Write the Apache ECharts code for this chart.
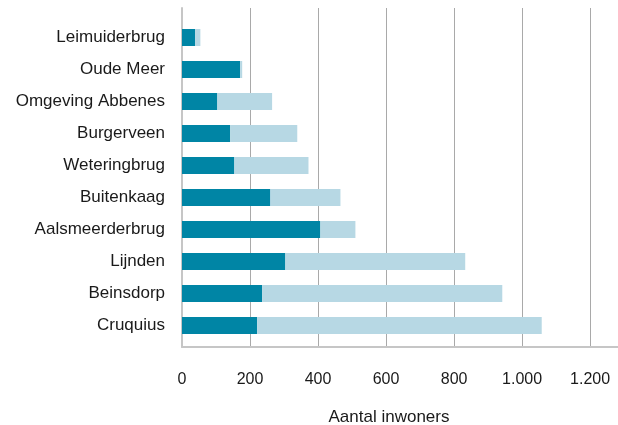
<!DOCTYPE html>
<html>
<head>
<meta charset="utf-8">
<title>Aantal inwoners per kern</title>
<script src="https://cdn.jsdelivr.net/npm/echarts@6/dist/echarts.min.js"></script>
<style>
  html, body { margin: 0; padding: 0; background: #ffffff; }
  #chart { width: 618px; height: 425px; }
</style>
</head>
<body>
<div id="chart"></div>
<script>
// Kernen, van boven naar beneden
const categories = [
  'Leimuiderbrug', 'Oude Meer', 'Omgeving Abbenes', 'Burgerveen', 'Weteringbrug',
  'Buitenkaag', 'Aalsmeerderbrug', 'Lijnden', 'Beinsdorp', 'Cruquius'
];
// Donker deel van elke balk
const darkPart = [39, 171, 104, 142, 154, 260, 407, 304, 236, 221];
// Licht deel, gestapeld op het donkere deel
const lightPart = [15, 6, 161, 197, 218, 206, 103, 529, 706, 837];
// Tikken op de x-as
const tickValues = [0, 200, 400, 600, 800, 1000, 1200];

const FONT = '"Liberation Sans", Arial, sans-serif';
const TEXT = '#1a1a1a';

function formatThousands(v) {
  return String(v).replace(/\B(?=(\d{3})+(?!\d))/g, '.');
}

const chart = echarts.init(document.getElementById('chart'), null, { renderer: 'canvas' });

chart.setOption({
  animation: false,
  backgroundColor: '#ffffff',
  grid: [
    // raster met verticale hulplijnen en de x-as (loopt door tot de rechterrand)
    { left: 182, right: 0, top: 8, bottom: 78, outerBoundsMode: 'none', containLabel: false },
    // de balken zelf
    { left: 182, width: 408, top: 21.5, height: 320, outerBoundsMode: 'none', containLabel: false }
  ],
  xAxis: [
    {
      gridIndex: 0,
      type: 'value',
      min: tickValues[0],
      max: 1282,
      interval: tickValues[1] - tickValues[0],
      axisLine: { show: true, lineStyle: { color: '#c6c6c6', width: 2 } },
      axisTick: { show: false },
      splitLine: { show: true, lineStyle: { color: '#a9a9a9', width: 1 } },
      axisLabel: {
        margin: 25,
        showMaxLabel: false,
        fontFamily: FONT,
        fontSize: 16,
        color: TEXT,
        formatter: (v) => tickValues.indexOf(v) >= 0 ? formatThousands(v) : ''
      },
      name: 'Aantal inwoners',
      nameLocation: 'middle',
      nameGap: 62,
      nameTextStyle: { fontFamily: FONT, fontSize: 17, color: TEXT, padding: [0, 22, 0, 0] }
    },
    {
      gridIndex: 1,
      type: 'value',
      min: 0,
      max: 1200,
      show: false
    }
  ],
  yAxis: [
    {
      gridIndex: 0,
      type: 'category',
      data: categories,
      axisLine: { show: true, lineStyle: { color: '#c6c6c6', width: 2 } },
      axisTick: { show: false },
      axisLabel: { show: false },
      splitLine: { show: false }
    },
    {
      gridIndex: 1,
      type: 'category',
      inverse: true,
      data: categories,
      axisLine: { show: false },
      axisTick: { show: false },
      splitLine: { show: false },
      axisLabel: {
        margin: 17,
        fontFamily: FONT,
        fontSize: 17,
        color: TEXT
      }
    }
  ],
  series: [
    {
      name: 'donker',
      type: 'bar',
      xAxisIndex: 1,
      yAxisIndex: 1,
      stack: 'totaal',
      barWidth: 17,
      itemStyle: { color: '#0085a5' },
      data: darkPart
    },
    {
      name: 'licht',
      type: 'bar',
      xAxisIndex: 1,
      yAxisIndex: 1,
      stack: 'totaal',
      barWidth: 17,
      itemStyle: { color: '#b7d8e4' },
      data: lightPart
    }
  ]
});
</script>
</body>
</html>
